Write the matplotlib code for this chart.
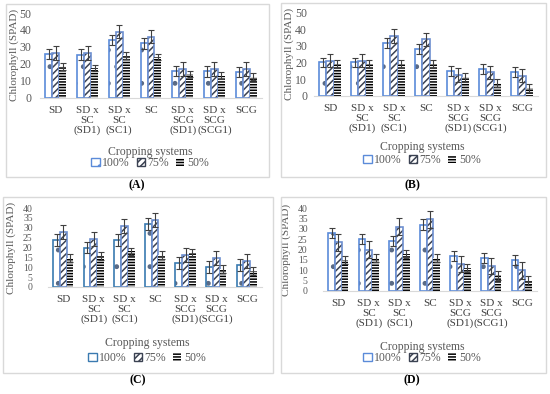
import numpy as np
import matplotlib
matplotlib.use('Agg')
from matplotlib import pyplot as plt
from matplotlib.patches import Patch, Rectangle

plt.rcParams['font.family'] = ['Liberation Serif', 'DejaVu Serif']
plt.rcParams['hatch.linewidth'] = 1.1

cats = ['SD', 'SD x\nSC\n(SD1)', 'SD x\nSC\n(SC1)', 'SC',
        'SD x\nSCG\n(SD1)', 'SD x\nSCG\n(SCG1)', 'SCG']
levels = ['100%', '75%', '50%']

# panel A
A_100 = [26, 25.5, 34, 32, 16, 15.5, 15]
A_75 = [26.5, 26.5, 39, 36, 17, 17, 17]
A_50 = [18.5, 17.5, 25, 24, 14, 13, 12.5]
A_err = [3, 4, 2]
# panel B
B_100 = [20, 20, 32, 28, 15, 16, 14]
B_75 = [21, 21, 36, 34, 12.5, 14, 12]
B_50 = [19, 19, 19, 19, 11, 7.5, 4.5]
B_err = [3, 4, 2.5]
# panel C
C_100 = [24, 20, 24, 32, 12, 10, 11]
C_75 = [28, 24.5, 31, 34, 16, 14.5, 13]
C_50 = [14.5, 15.5, 18, 16, 17, 9, 8]
C_err = [3, 3.5, 2]
# panel D
D_100 = [28, 25, 24, 32, 17, 16, 15]
D_75 = [23.5, 20, 31, 34.5, 13, 12, 10]
D_50 = [15, 16, 18, 16, 11, 7.5, 5]
D_err = [2.5, 4, 2]

W, H = 550, 394
fig = plt.figure(figsize=(5.5, 3.94), dpi=100)

def px_axes(x0, x1, ytop, ybot):
    return fig.add_axes([x0/W, 1-ybot/H, (x1-x0)/W, (ybot-ytop)/H])

def box(x0, x1, y0, y1):
    fig.patches.append(Rectangle((x0/W, 1-y1/H), (x1-x0)/W, (y1-y0)/H,
                                 transform=fig.transFigure, fill=False,
                                 edgecolor='#d9d9d9', lw=1.0))

def panel(ax, vals, errs, ymax, step, blue, lab_x, xl_y, lg_y, ypad, ylab_x, ysize):
    x = np.arange(len(cats))
    w = 0.22
    hatches = ['.', '/////', '------']
    hcols = ['#5a6a85', '#3b4252', 'black']
    ecols = [blue, '#6d8fd0', 'none']
    for i, v in enumerate(vals):
        xs = x + (i-1)*w
        ax.bar(xs, v, w, color='white', edgecolor=hcols[i], lw=0, hatch=hatches[i])
        if ecols[i] != 'none':
            ax.bar(xs, v, w, fill=False, edgecolor=ecols[i], lw=1.2)
        ax.errorbar(xs, v, yerr=errs[i], fmt='none', ecolor='#404040',
                    elinewidth=0.8, capsize=2, capthick=0.8)
    ax.set_xlim(-0.5, len(cats)-0.5)
    ax.set_ylim(0, ymax)
    ax.set_yticks(np.arange(0, ymax+1, step))
    ax.set_xticks(x)
    ax.set_xticklabels(cats, fontsize=8, color='#404040', linespacing=1.1)
    ax.tick_params(axis='y', labelsize=ysize, colors='#595959', length=0, pad=ypad)
    ax.tick_params(axis='x', length=0, pad=6)
    for s in ['top', 'right', 'left']:
        ax.spines[s].set_visible(False)
    ax.spines['bottom'].set_color('#d9d9d9')
    ax.set_ylabel('Chlorophyll (SPAD)', fontsize=8, color='#595959')
    bb = ax.get_position()
    ax.yaxis.set_label_coords((ylab_x/W - bb.x0)/bb.width, 0.5)
    fig.text(lab_x/W, 1-xl_y/H, 'Cropping systems', fontsize=8.5, color='#595959',
             ha='center', va='center')
    handles = [Patch(facecolor='white', edgecolor=blue, hatch='.'),
               Patch(facecolor='white', edgecolor='#3b4252', hatch='/////'),
               Patch(facecolor='white', edgecolor='black', hatch='------', lw=0)]
    fig.legend(handles, levels, loc='center', bbox_to_anchor=(lab_x/W, 1-lg_y/H),
               ncol=3, frameon=False, fontsize=8.5, handlelength=0.7, handleheight=0.7,
               handletextpad=0.2, columnspacing=0.6, labelcolor='#595959')

box(6, 269, 4, 177)
box(281, 546, 3, 177)
box(3, 273, 197, 373)
box(281, 546, 197, 373)

axA = px_axes(40, 262, 13, 97.7)
panel(axA, [A_100, A_75, A_50], A_err, 50, 10, '#5b8bd9', 150, 152, 163, 6, 19, 8.5)
axB = px_axes(314, 538, 12.7, 95.7)
panel(axB, [B_100, B_75, B_50], B_err, 50, 10, '#5b8bd9', 422, 147, 160, 5, 294, 8.5)
axC = px_axes(48, 262, 208, 287)
panel(axC, [C_100, C_75, C_50], C_err, 40, 5, '#3a7ab0', 147, 343, 358, 11, 16, 7)
axD = px_axes(323, 537, 208, 291)
panel(axD, [D_100, D_75, D_50], D_err, 40, 5, '#5b8bd9', 422, 347, 358, 11, 291, 7)

for t, xp, yp in [('(A)', 137, 185), ('(B)', 412, 185), ('(C)', 138, 380), ('(D)', 412, 380)]:
    fig.text(xp/W, 1-yp/H, t, fontsize=8.5, fontweight='bold', ha='center', va='center')

fig.savefig('out.png', dpi=100)
